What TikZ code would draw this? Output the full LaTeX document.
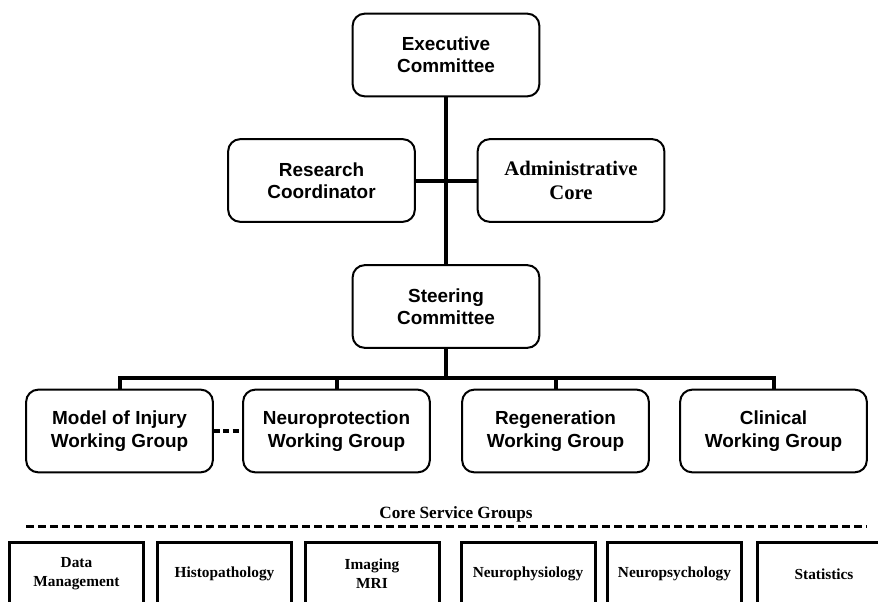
\documentclass[tikz,border=0pt]{standalone}
\usepackage{fontspec}
\setmainfont{Liberation Serif}
\setsansfont{Liberation Sans}
\usepackage{tikz}

\begin{document}
\begin{tikzpicture}[
        x=0.75pt, y=-0.75pt,
        groupbox/.style={rectangle, draw, rounded corners=9pt, line width=1.5pt, align=center,
            minimum width=140pt, minimum height=62pt, font=\sffamily\bfseries\fontsize{14.2}{16.8}\selectfont},
        corebox/.style={rectangle, draw, line width=2.25pt, align=center,
            minimum width=100.5pt, minimum height=48pt, font=\bfseries\fontsize{11.5}{14.2}\selectfont},
        link/.style={line width=3pt}
        ]
        \clip (0,0) rectangle (878,601);

        % Nodos principales
        \node[groupbox] (executive) at (446,55) {Executive\\Committee};
        \node[groupbox] (research) at (321.5,180.5) {Research\\Coordinator};
        \node[groupbox, font=\bfseries\fontsize{15.5}{17.5}\selectfont] (admin) at (571,180.5) {Administrative\\Core};
        \node[groupbox] (steering) at (446,306.5) {Steering\\Committee};

        % Grupos de trabajo
        \node[groupbox] (injury) at (119.5,431) {Model of Injury\\Working Group};
        \node[groupbox] (neuroprot) at (336.5,431) {Neuroprotection\\Working Group};
        \node[groupbox] (regen) at (555.5,431) {Regeneration\\Working Group};
        \node[groupbox] (clinical) at (773.5,431) {Clinical\\Working Group};

        % Grupos de servicio
        \node[font=\bfseries\fontsize{12.9}{15}\selectfont] (coretitle) at (456,514) {Core Service Groups};
        \coordinate (dashL) at (26,526);
        \coordinate (dashR) at (867,526);
        \node[corebox] (datamgmt) at (76.5,574) {Data\\Management};
        \node[corebox] (histo) at (224.5,574) {Histopathology};
        \node[corebox] (imaging) at (372,574) {Imaging\\MRI};
        \node[corebox] (neurophys) at (528,574) {Neurophysiology};
        \node[corebox] (neuropsych) at (674.5,574) {Neuropsychology};
        \node[corebox] (stats) at (824,574) {Statistics};

        % Conexiones
        \coordinate (bus) at (446,378);
        \draw[link] (executive) -- (steering);
        \draw[link] (research) -- (admin);
        \draw[link] (steering) -- (bus);
        \draw[link] (injury.north) |- (bus) -| (clinical.north);
        \draw[link] (neuroprot.north) -- (neuroprot.north |- bus);
        \draw[link] (regen.north) -- (regen.north |- bus);
        \draw[link, dash pattern=on 4.5pt off 2.5pt] (injury) -- (neuroprot);
        \draw[line width=2.25pt, dash pattern=on 6pt off 3pt] (dashL) -- (dashR);
\end{tikzpicture}
\end{document}
